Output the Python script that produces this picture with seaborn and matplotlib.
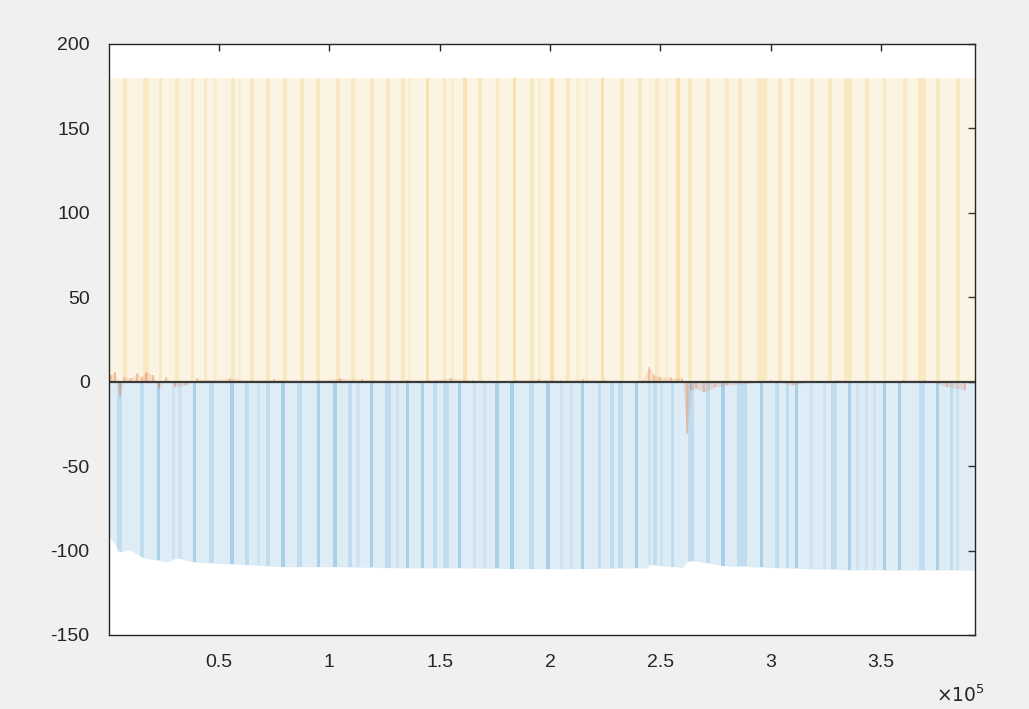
import numpy as np
import matplotlib
matplotlib.use('Agg')
from matplotlib import pyplot as plt
import seaborn as sns

# x values are in units of 1e5 samples
x_limits = [0.002, 3.926]
top_level = 180.0

# lower edge of the blue region
env_x = [0.006, 0.051, 0.097, 0.156, 0.264, 0.310, 0.382, 0.563, 0.790, 1.017,
         1.320, 1.547, 2.000, 2.439, 2.453, 2.602, 2.621, 2.648, 2.784, 3.056,
         3.359, 3.926]
env_y = [-92.0, -100.8, -99.6, -104.4, -106.7, -104.4, -106.7, -108.0, -109.6,
         -109.6, -110.3, -110.3, -110.9, -110.3, -108.5, -110.0, -106.7, -106.0,
         -109.0, -110.3, -111.5, -111.5]

# darker stripes in the blue region: position, strength (1..3), span
blue_pos = [0.051, 0.151, 0.224, 0.292, 0.323, 0.391, 0.468, 0.559, 0.627, 0.681,
            0.722, 0.790, 0.867, 0.949, 1.026, 1.094, 1.130, 1.193, 1.266, 1.307,
            1.356, 1.424, 1.479, 1.529, 1.592, 1.660, 1.705, 1.760, 1.828, 1.918,
            1.991, 2.054, 2.099, 2.149, 2.226, 2.281, 2.321, 2.394, 2.453, 2.476,
            2.507, 2.557, 2.639, 2.716, 2.784, 2.870, 2.960, 3.028, 3.078, 3.119,
            3.187, 3.246, 3.287, 3.359, 3.395, 3.436, 3.472, 3.517, 3.585, 3.685,
            3.758, 3.821, 3.848]
blue_lvl = [2, 2, 3, 1, 1, 3, 2, 3, 2, 1,
            2, 3, 2, 3, 3, 2, 1, 3, 2, 1,
            3, 3, 2, 2, 3, 1, 1, 3, 3, 2,
            3, 1, 1, 3, 2, 2, 2, 3, 1, 2,
            1, 2, 2, 2, 3, 2, 3, 2, 2, 3,
            1, 1, 2, 3, 1, 1, 1, 3, 3, 2,
            3, 2, 1]
blue_span = [0.023, 0.016, 0.014, 0.014, 0.016, 0.014, 0.023, 0.014, 0.016, 0.014,
             0.014, 0.014, 0.023, 0.014, 0.014, 0.018, 0.014, 0.014, 0.027, 0.014,
             0.014, 0.014, 0.014, 0.023, 0.014, 0.014, 0.014, 0.014, 0.014, 0.023,
             0.014, 0.014, 0.014, 0.014, 0.014, 0.014, 0.023, 0.014, 0.014, 0.014,
             0.014, 0.014, 0.023, 0.018, 0.014, 0.045, 0.014, 0.016, 0.014, 0.014,
             0.014, 0.014, 0.023, 0.014, 0.014, 0.014, 0.014, 0.014, 0.014, 0.027,
             0.014, 0.014, 0.014]

# darker stripes in the yellow region
yel_pos = [0.074, 0.169, 0.233, 0.310, 0.378, 0.437, 0.482, 0.563, 0.595, 0.650,
           0.722, 0.799, 0.876, 0.949, 1.039, 1.107, 1.193, 1.266, 1.334, 1.365,
           1.447, 1.524, 1.560, 1.615, 1.683, 1.764, 1.841, 1.918, 1.954, 2.009,
           2.081, 2.127, 2.167, 2.240, 2.326, 2.408, 2.485, 2.530, 2.580, 2.634,
           2.716, 2.802, 2.861, 2.960, 3.042, 3.096, 3.187, 3.268, 3.350, 3.436,
           3.517, 3.608, 3.685, 3.758, 3.848]
yel_lvl = [2, 2, 2, 2, 2, 2, 1, 2, 1, 2,
           2, 2, 2, 2, 2, 2, 2, 2, 2, 1,
           3, 2, 1, 3, 2, 2, 3, 2, 1, 3,
           2, 1, 1, 3, 2, 2, 2, 1, 3, 2,
           2, 2, 2, 2, 2, 2, 2, 2, 2, 2,
           2, 2, 2, 2, 2]
yel_span = [0.016, 0.027, 0.014, 0.016, 0.014, 0.014, 0.014, 0.016, 0.014, 0.016,
            0.016, 0.016, 0.016, 0.016, 0.016, 0.016, 0.016, 0.016, 0.016, 0.014,
            0.014, 0.014, 0.014, 0.014, 0.016, 0.014, 0.014, 0.016, 0.014, 0.014,
            0.016, 0.014, 0.014, 0.014, 0.016, 0.014, 0.016, 0.014, 0.014, 0.016,
            0.016, 0.016, 0.016, 0.045, 0.016, 0.016, 0.016, 0.016, 0.036, 0.016,
            0.016, 0.016, 0.036, 0.016, 0.016]

# small orange trace around zero
noise_x = [0.01, 0.03, 0.05, 0.07, 0.10, 0.13, 0.15, 0.17, 0.20, 0.23, 0.26, 0.30,
           0.35, 0.40, 0.45, 0.55, 0.65, 0.75, 0.85, 0.95, 1.05, 1.15, 1.25, 1.35,
           1.45, 1.55, 1.65, 1.75, 1.85, 1.95, 2.05, 2.15, 2.25, 2.35, 2.42, 2.45,
           2.47, 2.50, 2.55, 2.60, 2.62, 2.64, 2.66, 2.70, 2.75, 2.80, 2.90, 3.00,
           3.10, 3.20, 3.30, 3.40, 3.50, 3.60, 3.70, 3.80, 3.88]
noise_y = [4, 6, -9, 3, 2, 5, 3, 6, 4, -4, 3, -3,
           -2, 2, 1, 2, 1, 1.5, 1, 1, 2, 1.5, 1, 1,
           1, 2, 1, 0.5, 1, 1.5, 1, 1.5, 1, 0.5, 1, 8.5,
           4, 3, 2.5, 2, -31, -5, -4, -6, -3, -2, -1, 1,
           -2, 0.5, 1, 0.5, 0.5, 1, 1, -3, -5]

y_ticks = [-150, -100, -50, 0, 50, 100, 150, 200]
x_ticks = [0.5, 1, 1.5, 2, 2.5, 3, 3.5]

sns.set_style('white')
plt.rcParams['font.family'] = ['Liberation Sans', 'DejaVu Sans']
plt.rcParams['axes.unicode_minus'] = False

m_blue = (0.0, 0.447, 0.741)
m_orange = (0.85, 0.325, 0.098)
m_yellow = (0.929, 0.694, 0.125)
lvl_alpha = {1: 0.07, 2: 0.13, 3: 0.23}
ylvl_alpha = {1: 0.08, 2: 0.16, 3: 0.27}

fig = plt.figure(figsize=(10.29, 7.09), dpi=100, facecolor='#f0f0f0')
ax = fig.add_axes([0.106, 0.1044, 0.8415, 0.8336])
ax.set_facecolor('white')

xs = np.linspace(x_limits[0], x_limits[1], 800)
env = np.interp(xs, env_x, env_y)
ax.fill_between(xs, 0, env, color=m_blue, alpha=0.13, lw=0)
ax.fill_between(xs, 0, top_level, color=m_yellow, alpha=0.13, lw=0)

for p, l, w in zip(blue_pos, blue_lvl, blue_span):
    ax.bar(p, np.interp(p, env_x, env_y), width=w, color=m_blue,
           alpha=lvl_alpha[l], lw=0)
for p, l, w in zip(yel_pos, yel_lvl, yel_span):
    ax.bar(p, top_level, width=w, color=m_yellow, alpha=ylvl_alpha[l], lw=0)

ax.fill_between(noise_x, 0, noise_y, color=m_orange, alpha=0.14, lw=0)
ax.vlines(noise_x, 0, noise_y, color=m_orange, alpha=0.28, lw=1.2)
sns.lineplot(x=x_limits, y=[0, 0], ax=ax, color='#3a3a3a', lw=1.6)

ax.set_xlim(x_limits)
ax.set_ylim(-150, 200)
ax.set_xticks(x_ticks)
ax.set_xticklabels(['0.5', '1', '1.5', '2', '2.5', '3', '3.5'])
ax.set_yticks(y_ticks)
ax.tick_params(direction='in', length=5, width=1, colors='#262626',
               labelsize=14, top=True, right=True)
ax.tick_params(axis='y', pad=14)
ax.tick_params(axis='x', pad=14)
for s in ax.spines.values():
    s.set_color('#262626')
    s.set_linewidth(1)
    s.set_visible(True)
fig.text(0.910, 0.010, r'$\times10^{5}$', fontsize=13.5, color='#262626')

fig.savefig('out.png', dpi=100, facecolor=fig.get_facecolor())
